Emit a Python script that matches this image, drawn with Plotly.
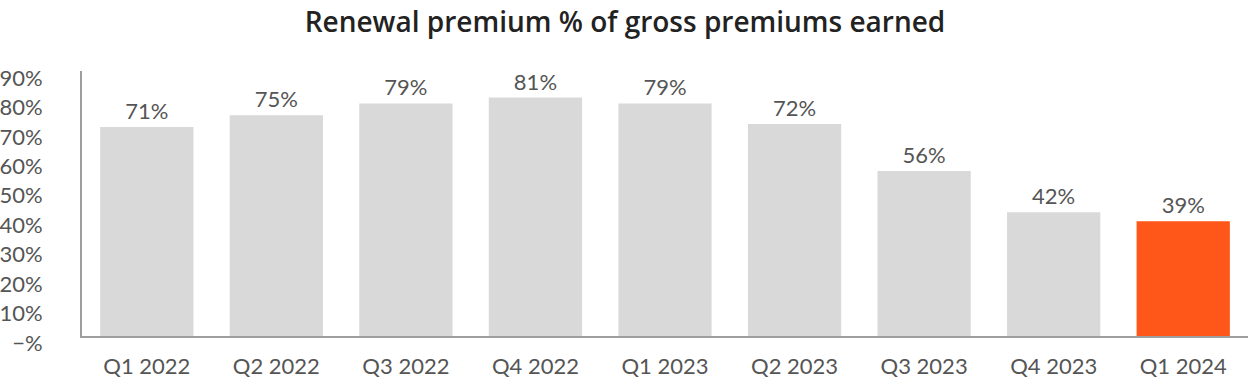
import plotly.graph_objects as go

categories = ["Q1 2022", "Q2 2022", "Q3 2022", "Q4 2022", "Q1 2023", "Q2 2023", "Q3 2023", "Q4 2023", "Q1 2024"]
values = [71, 75, 79, 81, 79, 72, 56, 42, 39]
labels = [f"{v}%" for v in values]
tick_vals = [0, 10, 20, 30, 40, 50, 60, 70, 80, 90]
tick_text = ["\u2212%", "10%", "20%", "30%", "40%", "50%", "60%", "70%", "80%", "90%"]

colors = ["#d9d9d9"] * (len(values) - 1) + ["#ff5719"]

fig = go.Figure(go.Bar(
    x=categories, y=values, marker_color=colors, marker_line_width=0,
    text=labels, textposition="outside", cliponaxis=False,
    textfont=dict(family="Lato", size=22, color="#555555"),
))

fig.update_layout(
    width=1250, height=384,
    margin=dict(l=82, r=2, t=71, b=48, autoexpand=False),
    paper_bgcolor="white", plot_bgcolor="white",
    bargap=0.28,
    showlegend=False,
    title=dict(text="Renewal premium % of gross premiums earned",
               x=0.5, xanchor="center", y=0.943, yanchor="middle",
               font=dict(family="Open Sans", size=28, color="#222222", weight=600)),
)
fig.update_xaxes(
    showline=True, linecolor="#9e9e9e", linewidth=2, showgrid=False, ticks="",
    automargin=False,
    tickfont=dict(family="Lato", size=22, color="#555555"), ticklabelstandoff=10,
)
fig.update_yaxes(
    range=[0, 90], tickvals=tick_vals, ticktext=tick_text,
    showline=True, linecolor="#9e9e9e", linewidth=2, showgrid=False, zeroline=False, ticks="",
    automargin=False,
    tickfont=dict(family="Lato", size=22, color="#555555"), ticklabelstandoff=33,
    ticklabelshift=7,
)

fig.write_html("out.html", config={"displayModeBar": False},
               post_script="document.body.style.margin='0';")
